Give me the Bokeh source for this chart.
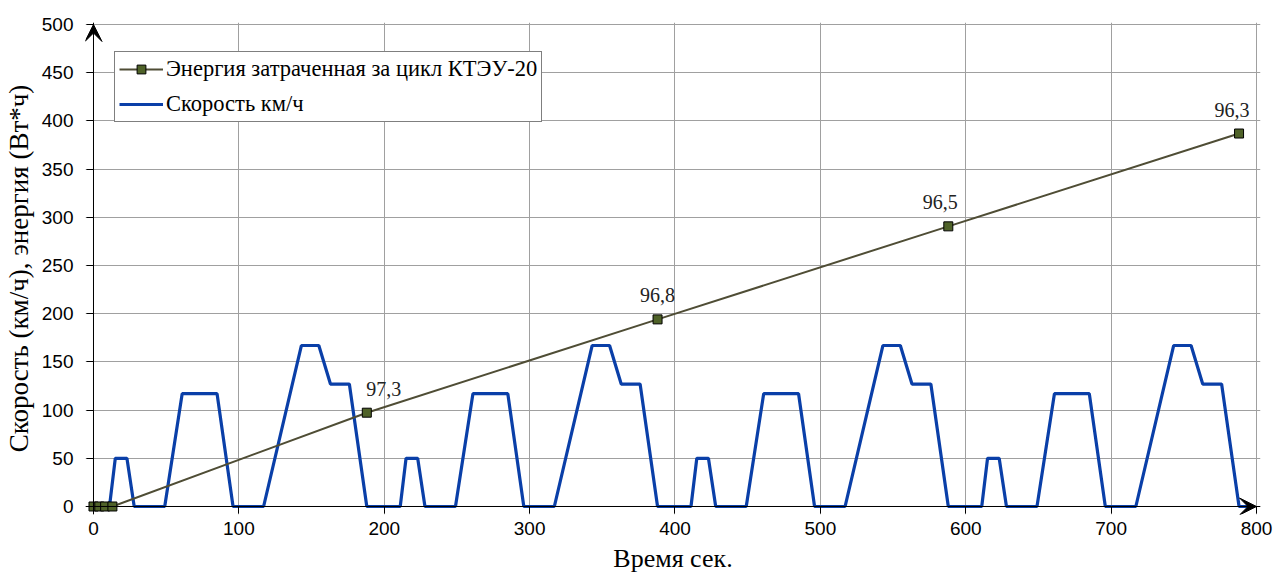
from bokeh.plotting import figure
from bokeh.models import Range1d, Arrow, VeeHead, Legend, LegendItem, ColumnDataSource, FixedTicker, LabelSet, LinearAxis
from bokeh.embed import file_html
from bokeh.resources import INLINE

# ---- data ----
speed_time = [0, 11, 15, 23, 28, 49, 61, 85, 96, 117, 143, 155, 163, 176, 188,
              211, 215, 223, 228, 249, 261, 285, 296, 317, 343, 355, 363, 376, 388,
              411, 415, 423, 428, 449, 461, 485, 496, 517, 543, 555, 563, 576, 588,
              611, 615, 623, 628, 649, 661, 685, 696, 717, 743, 755, 763, 776, 788, 795]
speed_kmh = [0, 0, 50, 50, 0, 0, 117, 117, 0, 0, 167, 167, 127, 127, 0,
             0, 50, 50, 0, 0, 117, 117, 0, 0, 167, 167, 127, 127, 0,
             0, 50, 50, 0, 0, 117, 117, 0, 0, 167, 167, 127, 127, 0,
             0, 50, 50, 0, 0, 117, 117, 0, 0, 167, 167, 127, 127, 0, 0]

energy_time = [0, 4, 8, 13, 188, 388, 588, 788]
energy_wh = [0, 0, 0, 0, 97.3, 194.1, 290.6, 386.9]

label_time = [188, 388, 588, 788]
label_energy = [97.3, 194.1, 290.6, 386.9]
label_text = ["97,3", "96,8", "96,5", "96,3"]

x_ticks = [0, 100, 200, 300, 400, 500, 600, 700, 800]
y_ticks = [0, 50, 100, 150, 200, 250, 300, 350, 400, 450, 500]

energy_name = "Энергия затраченная за цикл КТЭУ-20"
speed_name = "Скорость км/ч"
x_title = "Время сек."
y_title = "Скорость (км/ч), энергия (Вт*ч)"

# ---- style / layout ----
label_dx = [17, 0, -8, -7]
# frame is slightly larger than the data area so that axis arrow heads are not clipped
x_pad_lo, x_pad_hi = 5.5, 2.75
y_pad_lo, y_pad_hi = 8.3, 2.07

p = figure(width=1275, height=575, output_backend="svg", toolbar_location=None,
           x_range=Range1d(x_ticks[0] - x_pad_lo, x_ticks[-1] + x_pad_hi),
           y_range=Range1d(y_ticks[0] - y_pad_lo, y_ticks[-1] + y_pad_hi),
           min_border_left=84, min_border_right=15, min_border_top=22, min_border_bottom=61)
p.outline_line_color = None
p.background_fill_color = "white"
p.border_fill_color = "white"

# frame-edge axes: tick labels and titles only
for ax, ticks in ((p.xaxis[0], x_ticks), (p.yaxis[0], y_ticks)):
    ax.ticker = FixedTicker(ticks=ticks)
    ax.axis_line_color = None
    ax.major_tick_line_color = None
    ax.minor_tick_line_color = None
    ax.major_tick_in = 0
    ax.major_tick_out = 0
    ax.major_label_text_font = "Liberation Sans"
    ax.major_label_text_font_size = "19px"
    ax.major_label_text_color = "black"
    ax.axis_label_text_font = "Liberation Serif"
    ax.axis_label_text_font_style = "normal"
    ax.axis_label_text_color = "black"

p.xaxis.axis_label = x_title
p.yaxis.axis_label = y_title
p.xaxis.axis_label_text_font_size = "26px"
p.yaxis.axis_label_text_font_size = "27px"
p.yaxis.major_label_standoff = 12
p.xaxis.major_label_standoff = 7
p.xaxis.axis_label_standoff = 6
p.yaxis.axis_label_standoff = 5

# axes lines + ticks at the data origin
for side, ticks in (("below", x_ticks), ("left", y_ticks)):
    a = LinearAxis(fixed_location=0, ticker=FixedTicker(ticks=ticks))
    a.axis_line_color = "black"
    a.major_tick_line_color = "black"
    a.minor_tick_line_color = None
    a.major_tick_in = 0
    a.major_tick_out = 7
    a.major_label_text_color = None
    a.major_label_text_font_size = "1px"
    p.add_layout(a, side)

p.xgrid.ticker = FixedTicker(ticks=x_ticks)
p.ygrid.ticker = FixedTicker(ticks=y_ticks)
p.grid.grid_line_color = "#a0a0a0"
p.grid.grid_line_width = 1

speed_line = p.line(speed_time, speed_kmh, line_color="#0a3fa8", line_width=3.2)
energy_line = p.line(energy_time, energy_wh, line_color="#4f4d35", line_width=2)
energy_pts = p.scatter(energy_time, energy_wh, marker="square", size=9,
                       fill_color="#4f6228", line_color="black", line_width=1)

src = ColumnDataSource(dict(x=label_time, y=label_energy, t=label_text, dx=label_dx))
p.add_layout(LabelSet(x="x", y="y", text="t", source=src, x_offset="dx", y_offset=17,
                      text_align="center", text_baseline="alphabetic",
                      text_font="Liberation Serif", text_font_size="20px", text_color="#222222"))

# axis arrows
p.add_layout(Arrow(x_start=x_ticks[0], y_start=y_ticks[0], x_end=x_ticks[0], y_end=y_ticks[-1],
                   line_color="black", line_width=1,
                   end=VeeHead(size=17, line_color="black", fill_color="black", line_width=1)))
p.add_layout(Arrow(x_start=x_ticks[0], y_start=y_ticks[0], x_end=x_ticks[-1], y_end=y_ticks[0],
                   line_color="black", line_width=1,
                   end=VeeHead(size=17, line_color="black", fill_color="black", line_width=1)))

legend = Legend(items=[LegendItem(label=energy_name, renderers=[energy_line, energy_pts]),
                       LegendItem(label=speed_name, renderers=[speed_line])],
                location=(29, 392))
legend.border_line_color = "black"
legend.border_line_width = 1
legend.background_fill_color = "white"
legend.background_fill_alpha = 1
legend.label_text_font = "Liberation Serif"
legend.label_text_font_size = "22.5px"
legend.label_text_color = "black"
legend.glyph_width = 44
legend.glyph_height = 22
legend.label_height = 22
legend.label_standoff = 3
legend.spacing = 9
legend.padding = 4
legend.margin = 0
p.add_layout(legend, "center")

open("out.html", "w").write(file_html(p, INLINE))
